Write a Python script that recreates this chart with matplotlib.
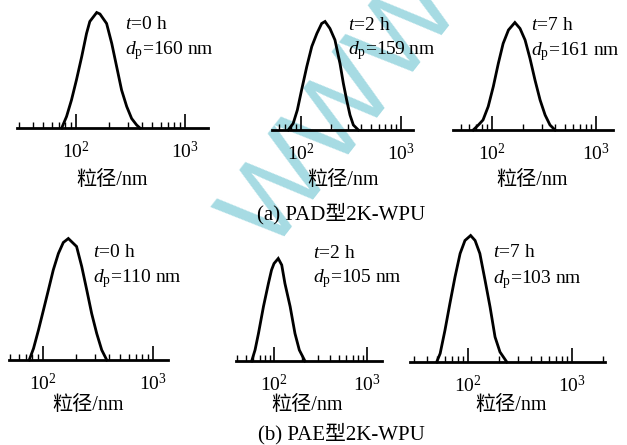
import numpy as np
import matplotlib
matplotlib.use("Agg")
import matplotlib.pyplot as plt
from matplotlib.ticker import FuncFormatter, LogLocator

plt.rcParams['font.family'] = ['Liberation Serif', 'Noto Sans CJK SC']
plt.rcParams['mathtext.fontset'] = 'custom'
plt.rcParams['mathtext.rm'] = 'Liberation Serif'
plt.rcParams['mathtext.it'] = 'Liberation Serif:italic'
plt.rcParams['mathtext.bf'] = 'Liberation Serif:bold'

# ---------------- data (particle size in nm, intensity in %) ----------------
a1_d = [74, 82, 91, 101, 113, 125, 134, 155, 166, 191, 213, 236, 262, 292, 324, 360, 386]
a1_i = [0, 2.3, 5.6, 9.6, 14.3, 18.9, 21.3, 23.1, 22.8, 20.9, 16.9, 12.3, 7.6, 4.3, 1.9, 0.6, 0]

a2_d = [75, 84, 92.5, 102, 115, 129, 145, 162, 175, 196, 220, 247, 267, 288, 311, 336, 377]
a2_i = [0, 1.3, 4.0, 8.0, 12.7, 16.7, 19.3, 21.3, 21.7, 20.3, 18.0, 13.3, 9.3, 6.0, 3.0, 1.0, 0]

a3_d = [66, 74, 82, 92, 103, 115, 128, 144, 166, 186, 208, 232, 259, 290, 324, 361, 404]
a3_i = [0, 1.0, 2.0, 4.7, 8.7, 13.3, 17.3, 20.0, 21.5, 20.3, 18.0, 14.3, 10.0, 6.0, 3.0, 1.0, 0]

b1_d = [75, 82, 91, 101, 112, 124, 138, 153, 170, 202, 225, 250, 277, 308, 342, 380]
b1_i = [0, 2.3, 6.0, 10.0, 14.0, 18.0, 21.3, 23.5, 24.3, 22.7, 18.7, 14.0, 9.3, 5.3, 2.0, 0]

b2_d = [57.5, 62.5, 68, 77, 87, 94, 100, 111, 121, 131, 149, 168, 187, 215]
b2_i = [0, 2.2, 5.5, 10.9, 15.5, 18.2, 19.5, 20.5, 19.2, 15.5, 10.9, 5.5, 2.2, 0]

b3_d = [50, 54, 60, 67, 75, 84, 93.5, 106, 117, 130, 146, 163, 182, 203, 236]
b3_i = [0, 1.7, 6.3, 11.7, 17.0, 21.7, 24.3, 25.3, 24.3, 21.7, 16.3, 11.0, 5.0, 2.0, 0]

times = ['0', '2', '7']
dp_a = [160, 159, 161]
dp_b = [110, 105, 103]
captions = ['(a) PAD型2K-WPU', '(b) PAE型2K-WPU']
xlabel = '粒径/nm'

panels = [
    (a1_d, a1_i, times[0], dp_a[0]),
    (a2_d, a2_i, times[1], dp_a[1]),
    (a3_d, a3_i, times[2], dp_a[2]),
    (b1_d, b1_i, times[0], dp_b[0]),
    (b2_d, b2_i, times[1], dp_b[1]),
    (b3_d, b3_i, times[2], dp_b[2]),
]

# ---------------- layout (pixels) ----------------
W, H = 627, 445
fig = plt.figure(figsize=(W / 100, H / 100), dpi=100)

# left, right, baseline y, xlim
boxes = [
    (17, 208, 128, (28.8, 1625)),
    (272, 413, 130, (51.6, 1327)),
    (453, 613, 130, (42.2, 1456)),
    (9, 168, 360, (49.1, 1369)),
    (236, 382, 361, (39.0, 1449)),
    (410, 605, 362, (27.7, 2075)),
]
ann_pos = [(125, 29, 54), (348, 30, 54), (531, 30, 55),
           (93, 257, 282), (313, 258, 282), (493, 257, 283)]
xlab_pos = [(112, 180), (343, 180), (532, 180), (88, 405), (307, 405), (511, 405)]
cap_pos = [(341, 214), (341, 434)]

AX_H = 130

def fx(px):
    return px / W

def fy(py):
    return 1 - py / H

fmt = FuncFormatter(lambda v, p: r'$\mathregular{10^{%d}}$' % int(round(np.log10(v))))

for (d, inten, t, dp), (L, R, yb, xl), (tx, ty1, ty2), (lx, ly) in zip(panels, boxes, ann_pos, xlab_pos):
    ax = fig.add_axes([fx(L), fy(yb), (R - L) / W, AX_H / H])
    ax.plot(d, inten, color='black', lw=2.0, solid_joinstyle='miter', clip_on=False)
    ax.set_xscale('log')
    ax.set_xlim(*xl)
    ax.set_ylim(0, 26)
    ax.patch.set_visible(False)
    for s in ['left', 'right', 'top']:
        ax.spines[s].set_visible(False)
    ax.spines['bottom'].set_linewidth(2.0)
    ax.set_yticks([])
    ax.xaxis.set_major_locator(LogLocator(base=10, numticks=10))
    ax.xaxis.set_minor_locator(LogLocator(base=10, subs=np.arange(2, 10), numticks=20))
    ax.xaxis.set_major_formatter(fmt)
    ax.xaxis.set_minor_formatter(FuncFormatter(lambda v, p: ''))
    ax.tick_params(axis='x', which='major', direction='in', length=10, width=1.2,
                   pad=9, labelsize=14)
    ax.tick_params(axis='x', which='minor', direction='in', length=4, width=1.0)

    fig.text(fx(tx), fy(ty1), r'$t$=%s h' % t, fontsize=14, va='baseline', ha='left')
    fig.text(fx(tx), fy(ty2), r'$d_\mathrm{p}$=%d nm' % dp, fontsize=14, va='baseline', ha='left')
    fig.text(fx(lx), fy(ly), xlabel, fontsize=14.5, ha='center', va='center')

for cap, (cx, cy) in zip(captions, cap_pos):
    fig.text(fx(cx), fy(cy), cap, fontsize=15, ha='center', va='center')

# watermark
fig.text(fx(345), fy(112), 'WWW', fontsize=80, family='Liberation Sans',
         color='#a6dbe3', rotation=52, ha='center', va='center', zorder=-1)

fig.savefig('out.png', dpi=100)
